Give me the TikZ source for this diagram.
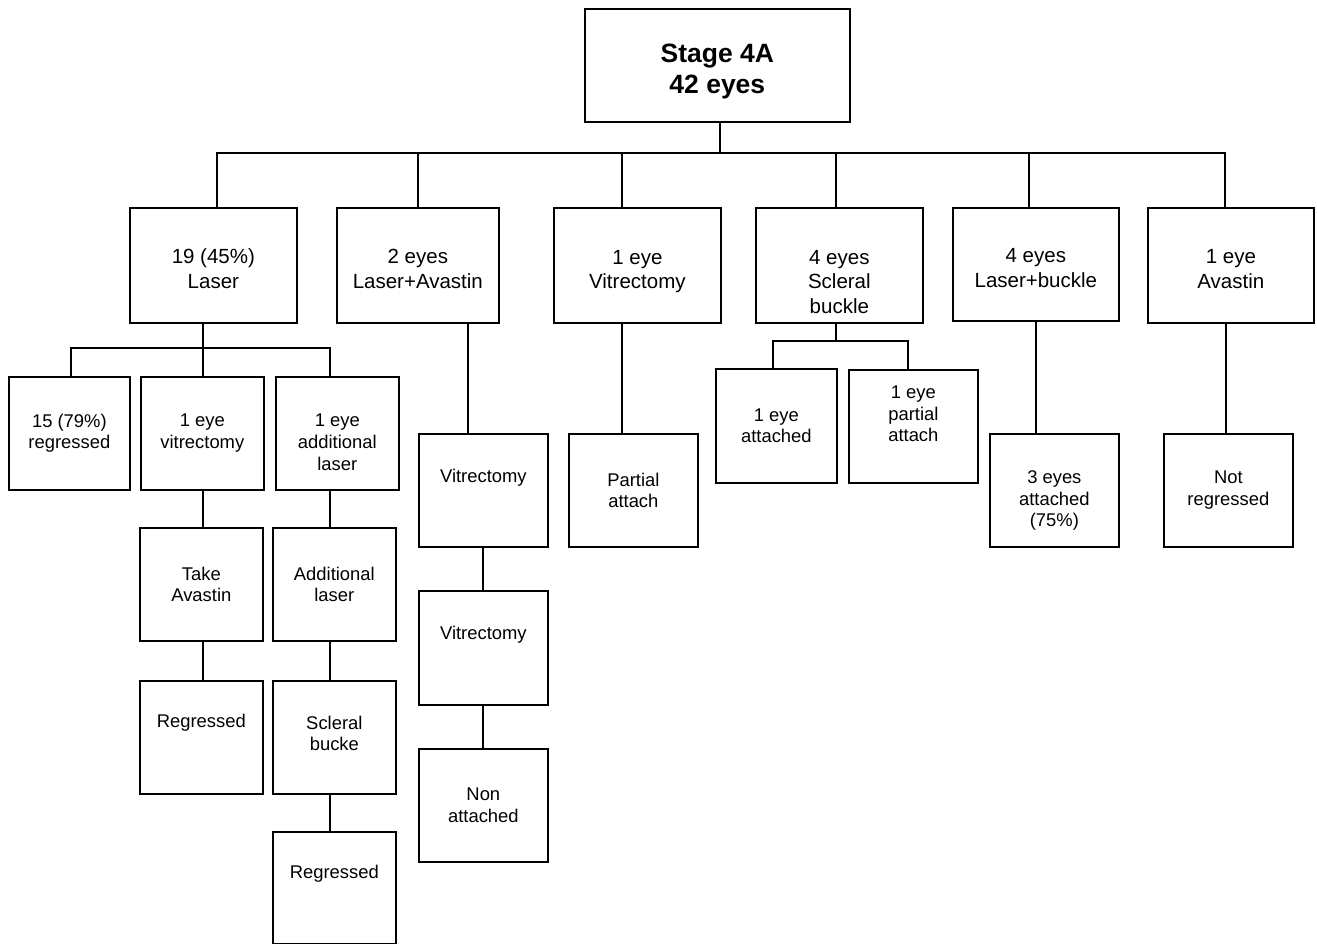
\documentclass[tikz,border=0pt]{standalone}
\usepackage{fontspec}
\setmainfont{Liberation Sans}
\usetikzlibrary{positioning, calc}
\newcommand{\fsroot}{\fontsize{26.5}{31}\selectfont\bfseries}
\newcommand{\fsone}{\fontsize{20.5}{24.5}\selectfont}
\newcommand{\fstwo}{\fontsize{18.4}{21.7}\selectfont}
\tikzset{
  blk/.style={draw=black, line width=1.7pt, anchor=north west, align=center, inner sep=2pt, fill=white},
  lnk/.style={draw=black, line width=1.7pt},
  lift/.style={text depth=#1},
  sink/.style={text height=#1}
}

\begin{document}
\begin{tikzpicture}[x=1pt, y=-1pt, font=\fstwo]
\useasboundingbox (0,0) rectangle (1317,944);
% top
\node[blk, font=\fsroot, minimum width=265, minimum height=113, sink=62pt] (root) at (584,8) {Stage 4A\\42 eyes};
% first row
\node[blk, font=\fsone, minimum width=167, minimum height=115, sink=46pt] (laser) at (129,207) {19 (45\%)\\Laser};
\node[blk, font=\fsone, minimum width=162, minimum height=115, sink=46pt] (lav) at (336,207) {2 eyes\\Laser+Avastin};
\node[blk, font=\fsone, minimum width=167, minimum height=115, sink=51pt] (vit) at (553,207) {1 eye\\Vitrectomy};
\node[blk, font=\fsone, minimum width=167, minimum height=115, sink=96pt] (scl) at (755,207) {4 eyes\\Scleral\\buckle};
\node[blk, font=\fsone, minimum width=166, minimum height=113, sink=46pt] (lb) at (952,207) {4 eyes\\Laser+buckle};
\node[blk, font=\fsone, minimum width=166, minimum height=115, sink=46pt] (av) at (1147,207) {1 eye\\Avastin};
% laser branch
\node[blk, minimum width=121, minimum height=113] (reg) at (8,376) {15 (79\%)\\regressed};
\node[blk, minimum width=123, minimum height=113] (vitr) at (140,376) {1 eye\\vitrectomy};
\node[blk, minimum width=123, minimum height=113, sink=74pt] (addl) at (275,376) {1 eye\\additional\\laser};
\node[blk, minimum width=123, minimum height=113] (take) at (139,527) {Take\\Avastin};
\node[blk, minimum width=123, minimum height=113, lift=33pt] (regA) at (139,680) {Regressed};
\node[blk, minimum width=123, minimum height=113] (addlB) at (272,527) {Additional\\laser};
\node[blk, minimum width=123, minimum height=113, sink=27pt] (scb) at (272,680) {Scleral\\bucke};
\node[blk, minimum width=123, minimum height=112, lift=32pt] (regB) at (272,831) {Regressed};
% laser+avastin branch
\node[blk, minimum width=129, minimum height=113, lift=30pt] (vitA) at (418,433) {Vitrectomy};
\node[blk, minimum width=129, minimum height=114, lift=30pt] (vitB) at (418,590) {Vitrectomy};
\node[blk, minimum width=129, minimum height=113] (non) at (418,748) {Non\\attached};
% other branches
\node[blk, minimum width=129, minimum height=113] (pa) at (568,433) {Partial\\attach};
\node[blk, minimum width=121, minimum height=114] (att) at (715,368) {1 eye\\attached};
\node[blk, minimum width=129, minimum height=113, lift=25pt] (patt) at (848,369) {1 eye\\partial\\attach};
\node[blk, minimum width=129, minimum height=113, sink=77pt] (attB) at (989,433) {3 eyes\\attached\\(75\%)};
\node[blk, minimum width=129, minimum height=113] (notreg) at (1163,433) {Not\\regressed};

% stem columns and bus rows
\coordinate (ybus) at (0,153);
\coordinate (ylas) at (0,348);
\coordinate (yscl) at (0,341);
\coordinate (xr) at (720,0);
\coordinate (xa) at (217,0);
\coordinate (xb) at (418,0);
\coordinate (xc) at (622,0);
\coordinate (xd) at (836,0);
\coordinate (xe) at (1029,0);
\coordinate (xf) at (1225,0);
\coordinate (xl) at (203,0);
\coordinate (xg) at (71,0);
\coordinate (xi) at (330,0);
\coordinate (xh) at (468,0);
\coordinate (xv) at (483,0);
\coordinate (xj) at (773,0);
\coordinate (xk) at (908,0);
\coordinate (xm) at (1036,0);
\coordinate (xn) at (1226,0);

\draw[lnk] (root.south -| xr) -- (ybus -| xr);
\draw[lnk] (laser.north -| xa) |- (ybus -| xf) -- (av.north -| xf);
\foreach \n/\c in {lav/xb, vit/xc, scl/xd, lb/xe}
  \draw[lnk] (ybus -| \c) -- (\n.north -| \c);

\draw[lnk] (laser.south -| xl) -- (ylas -| xl) -- (vitr.north -| xl);
\draw[lnk] (reg.north -| xg) |- (ylas -| xi) -- (addl.north -| xi);
\draw[lnk] (vitr.south -| xl) -- (take.north -| xl);
\draw[lnk] (take.south -| xl) -- (regA.north -| xl);
\draw[lnk] (addl.south -| xi) -- (addlB.north -| xi);
\draw[lnk] (addlB.south -| xi) -- (scb.north -| xi);
\draw[lnk] (scb.south -| xi) -- (regB.north -| xi);

\draw[lnk] (lav.south -| xh) -- (vitA.north -| xh);
\draw[lnk] (vitA.south -| xv) -- (vitB.north -| xv);
\draw[lnk] (vitB.south -| xv) -- (non.north -| xv);

\draw[lnk] (vit.south -| xc) -- (pa.north -| xc);
\draw[lnk] (scl.south -| xd) -- (yscl -| xd);
\draw[lnk] (att.north -| xj) |- (yscl -| xk) -- (patt.north -| xk);
\draw[lnk] (lb.south -| xm) -- (attB.north -| xm);
\draw[lnk] (av.south -| xn) -- (notreg.north -| xn);
\end{tikzpicture}
\end{document}
